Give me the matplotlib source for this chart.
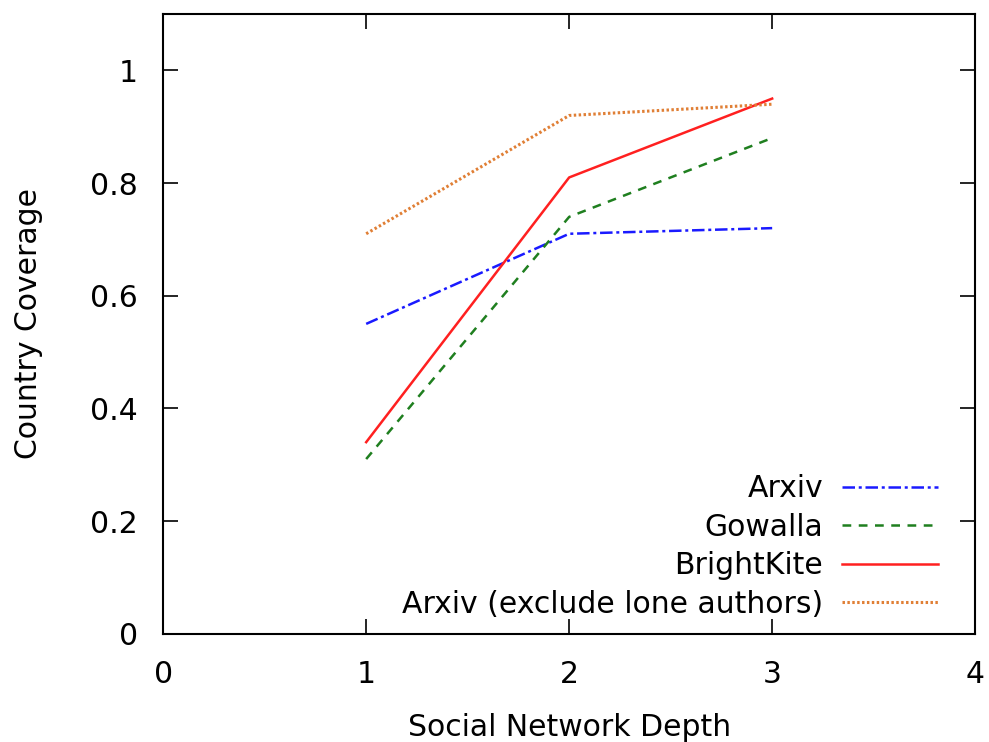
import matplotlib
matplotlib.use('Agg')
import matplotlib.pyplot as plt

# данные
depth = [1, 2, 3]
arxiv = [0.55, 0.71, 0.72]
gowalla = [0.31, 0.74, 0.88]
brightkite = [0.34, 0.81, 0.95]
arxiv_no_lone = [0.71, 0.92, 0.94]
series_names = ['Arxiv', 'Gowalla', 'BrightKite', 'Arxiv (exclude lone authors)']

plt.rcParams['font.family'] = 'DejaVu Sans'
plt.rcParams['font.size'] = 21.5

fig = plt.figure(figsize=(9.89, 7.42), dpi=100)
ax = fig.add_axes([0.165, 0.146, 0.821, 0.835])

ax.plot(depth, arxiv, color='#1a1aff', linestyle=(0, (5, 1.5, 1.2, 1.5)), lw=1.8, label=series_names[0])
ax.plot(depth, gowalla, color='#1f7f1f', linestyle=(0, (3.5, 3)), lw=1.8, label=series_names[1])
ax.plot(depth, brightkite, color='#ff2020', linestyle='-', lw=1.8, label=series_names[2])
ax.plot(depth, arxiv_no_lone, color='#e07f35', linestyle=(0, (0.8, 0.8)), lw=2.2, label=series_names[3])

ax.set_xlim(0, 4)
ax.set_ylim(0, 1.1)
ax.set_xticks([0, 1, 2, 3, 4])
ax.set_yticks([0, 0.2, 0.4, 0.6, 0.8, 1])
ax.set_yticklabels(['0', '0.2', '0.4', '0.6', '0.8', '1'])
ax.tick_params(axis='both', direction='in', length=11, width=1.2, top=True, right=True)
ax.tick_params(axis='x', pad=19)
ax.tick_params(axis='y', pad=18)
for sp in ax.spines.values():
    sp.set_linewidth(1.5)

ax.set_xlabel('Social Network Depth', labelpad=17)
ax.set_ylabel('Country Coverage', labelpad=34)

ax.legend(loc='lower right', bbox_to_anchor=(0.969, 0.005), borderaxespad=0,
          frameon=False, markerfirst=False, handlelength=3.2,
          labelspacing=0.32, handletextpad=0.65)

fig.savefig('out.png', dpi=100)
